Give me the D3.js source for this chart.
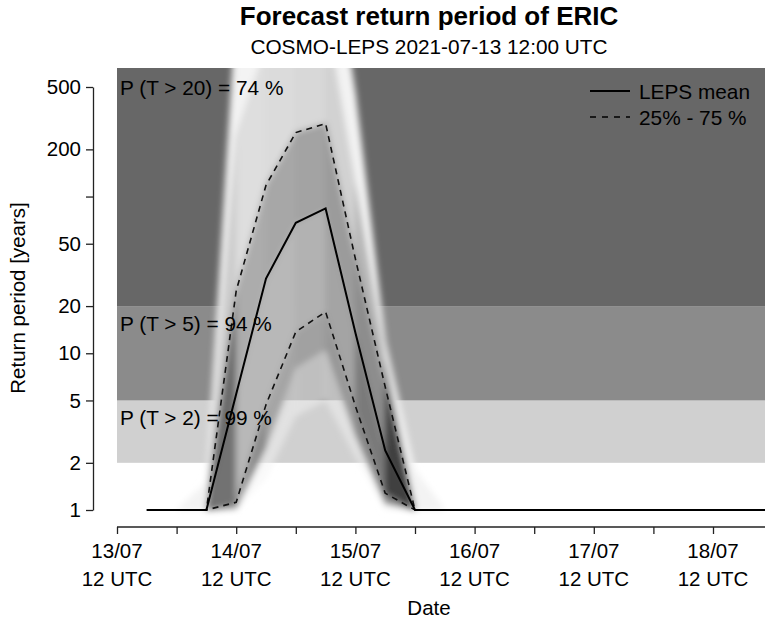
<!DOCTYPE html>
<html>
<head>
<meta charset="utf-8">
<script src="https://cdn.jsdelivr.net/npm/d3@7"></script>
<style>
  body { margin: 0; background: #fff; }
  svg { display: block; }
  text { font-family: "Liberation Sans", Arial, Helvetica, sans-serif; fill: #000; }
</style>
</head>
<body>
<div id="chart"></div>
<script>
// forecast steps, every 6 h
const times = [
  "2021-07-13T18:00Z", "2021-07-14T00:00Z", "2021-07-14T06:00Z", "2021-07-14T12:00Z",
  "2021-07-14T18:00Z", "2021-07-15T00:00Z", "2021-07-15T06:00Z", "2021-07-15T12:00Z",
  "2021-07-15T18:00Z", "2021-07-16T00:00Z", "2021-07-16T06:00Z", "2021-07-16T12:00Z",
  "2021-07-16T18:00Z", "2021-07-17T00:00Z", "2021-07-17T06:00Z", "2021-07-17T12:00Z",
  "2021-07-17T18:00Z", "2021-07-18T00:00Z", "2021-07-18T06:00Z", "2021-07-18T12:00Z",
  "2021-07-18T18:00Z", "2021-07-19T00:00Z"
];
const lepsMean = [1, 1, 1, 5.5, 30, 68, 84, 13.5, 2.4, 1, 1, 1, 1, 1, 1, 1, 1, 1, 1, 1, 1, 1];
const q25 = [1, 1, 1, 1.12, 4.7, 13.7, 18.4, 4.6, 1.28, 1, 1, 1, 1, 1, 1, 1, 1, 1, 1, 1, 1, 1];
const q75 = [1, 1, 1, 25, 118, 256, 292, 40, 6.1, 1, 1, 1, 1, 1, 1, 1, 1, 1, 1, 1, 1, 1];
// ensemble spread used for the grey shading
const qMin = [1, 1, 1, 1, 1.6, 4, 5, 2.2, 1, 1, 1, 1, 1, 1, 1, 1, 1, 1, 1, 1, 1, 1];
const q10 = [1, 1, 1, 1.03, 2.5, 8, 10.5, 3, 1.1, 1, 1, 1, 1, 1, 1, 1, 1, 1, 1, 1, 1, 1];
const q90 = [1, 1, 1, 250, 900, 1500, 1500, 120, 9, 1, 1, 1, 1, 1, 1, 1, 1, 1, 1, 1, 1, 1];
const qMax = [1, 1, 1.5, 1500, 5000, 8000, 8000, 450, 12, 1.8, 1, 1, 1, 1, 1, 1, 1, 1, 1, 1, 1, 1];

// return period classes and probabilities
const classLow = [2, 5, 20];
const classHigh = [5, 20, null];
const classProb = ["P (T > 2) = 99 %", "P (T > 5) = 94 %", "P (T > 20) = 74 %"];

const yTicks = [1, 2, 5, 10, 20, 50, 100, 200, 500];
const yTickLabels = ["1", "2", "5", "10", "20", "50", "", "200", "500"];
const dayTicks = ["2021-07-13T12:00Z", "2021-07-14T12:00Z", "2021-07-15T12:00Z",
                  "2021-07-16T12:00Z", "2021-07-17T12:00Z", "2021-07-18T12:00Z"];
const dayLabels = ["13/07", "14/07", "15/07", "16/07", "17/07", "18/07"];
const nightTicks = ["2021-07-14T00:00Z", "2021-07-15T00:00Z", "2021-07-16T00:00Z",
                    "2021-07-17T00:00Z", "2021-07-18T00:00Z"];

const width = 765, height = 623;
const plot = { left: 117, right: 765, top: 68, bottom: 527 };

const svg = d3.select("#chart").append("svg")
  .attr("width", width).attr("height", height);

const x = d3.scaleUtc()
  .domain([new Date(dayTicks[0]), new Date(dayTicks[dayTicks.length - 1])])
  .range([117, 713]);
const y = d3.scaleLog().domain([1, 500]).range([510, 87]);

const data = times.map((t, i) => ({
  t: new Date(t), mean: lepsMean[i], q25: q25[i], q75: q75[i],
  min: qMin[i], q10: q10[i], q90: q90[i], max: qMax[i]
}));

// background classes
const classFill = ["#d0d0d0", "#8b8b8b", "#676767"];
svg.append("g").selectAll("rect")
  .data(classLow)
  .join("rect")
  .attr("x", plot.left)
  .attr("width", plot.right - plot.left)
  .attr("y", (d, i) => classHigh[i] ? y(classHigh[i]) : plot.top)
  .attr("height", (d, i) => y(d) - (classHigh[i] ? y(classHigh[i]) : plot.top))
  .attr("fill", (d, i) => classFill[i]);

// clip + blur for the ensemble shading
const defs = svg.append("defs");
defs.append("clipPath").attr("id", "clip")
  .append("rect")
  .attr("x", plot.left).attr("y", plot.top)
  .attr("width", plot.right - plot.left).attr("height", plot.bottom - plot.top);
defs.append("filter").attr("id", "soft")
  .attr("x", "-20%").attr("y", "-20%").attr("width", "140%").attr("height", "140%")
  .append("feGaussianBlur").attr("stdDeviation", 3);

const outerCol = () => "#f3f3f3";
const midCol = d3.scaleLinear().domain([0.1, 0.8]).range(["#e6e6e6", "#8a8a8a"]).clamp(true);
const innerCol = d3.scaleLinear().domain([0.2, 1.0]).range(["#d0d0d0", "#404040"]).clamp(true);
const spreadBands = [
  { lo: "min", hi: "q10", mass: 0.10, col: outerCol, op: 0.5 },
  { lo: "q90", hi: "max", mass: 0.10, col: outerCol, op: 1 },
  { lo: "q10", hi: "q25", mass: 0.15, col: midCol, op: 1 },
  { lo: "q75", hi: "q90", mass: 0.15, col: midCol, op: 1 },
  { lo: "q25", hi: "mean", mass: 0.25, col: innerCol, op: 1 },
  { lo: "mean", hi: "q75", mass: 0.25, col: innerCol, op: 1 }
];

const quads = [];
spreadBands.forEach(b => {
  for (let i = 0; i < data.length - 1; i++) {
    const a = data[i], c = data[i + 1];
    const w = (Math.log10(a[b.hi] / a[b.lo]) + Math.log10(c[b.hi] / c[b.lo])) / 2;
    if (w < 1e-6) continue;
    quads.push({
      pts: [[x(a.t), y(a[b.lo])], [x(a.t), y(a[b.hi])], [x(c.t), y(c[b.hi])], [x(c.t), y(c[b.lo])]],
      fill: b.col(b.mass / w),
      op: b.op
    });
  }
});

const clipped = svg.append("g").attr("clip-path", "url(#clip)");
clipped.append("g").attr("filter", "url(#soft)")
  .selectAll("path")
  .data(quads)
  .join("path")
  .attr("d", d => "M" + d.pts.join("L") + "Z")
  .attr("fill", d => d.fill)
  .attr("opacity", d => d.op)
  .attr("stroke", d => d.fill)
  .attr("stroke-width", 0.8);

// quartile and mean lines
const lineOf = key => d3.line().x(d => x(d.t)).y(d => y(d[key]));
["q25", "q75"].forEach(k => {
  clipped.append("path").datum(data)
    .attr("d", lineOf(k))
    .attr("fill", "none").attr("stroke", "#111")
    .attr("stroke-width", 1.6).attr("stroke-dasharray", "6,5");
});
clipped.append("path").datum(data)
  .attr("d", lineOf("mean"))
  .attr("fill", "none").attr("stroke", "#000").attr("stroke-width", 2);

// class probabilities
svg.append("g").selectAll("text")
  .data(classProb)
  .join("text")
  .attr("x", 120)
  .attr("y", (d, i) => classHigh[i] ? y(classHigh[i]) + 25 : plot.top + 27)
  .attr("font-size", 20.8)
  .text(d => d);

// y axis
const yAxis = svg.append("g")
  .attr("transform", "translate(93,0)")
  .call(d3.axisLeft(y).tickValues(yTicks).tickFormat((d, i) => yTickLabels[i])
    .tickSize(7).tickSizeOuter(0).tickPadding(5));
yAxis.selectAll("text").attr("font-size", 20.5).attr("font-family", null);
yAxis.selectAll("line, path").attr("stroke", "#222").attr("stroke-width", 1.3);

// x axis
const allXTicks = dayTicks.concat(nightTicks).map(d => new Date(d));
const xAxis = svg.append("g")
  .attr("transform", `translate(0,${plot.bottom})`)
  .call(d3.axisBottom(x).tickValues(allXTicks).tickFormat("").tickSize(7).tickSizeOuter(0));
xAxis.select(".domain").remove();
xAxis.append("line")
  .attr("x1", plot.left).attr("x2", plot.right)
  .attr("stroke", "#222").attr("stroke-width", 1.3);
xAxis.selectAll("line").attr("stroke", "#222").attr("stroke-width", 1.3);
const dayLab = xAxis.append("g").selectAll("text")
  .data(dayTicks)
  .join("text")
  .attr("text-anchor", "middle")
  .attr("font-size", 20.5)
  .attr("transform", d => `translate(${x(new Date(d))},0)`);
dayLab.append("tspan").attr("x", 0).attr("y", 31).text((d, i) => dayLabels[i]);
dayLab.append("tspan").attr("x", 0).attr("y", 59).text("12 UTC");

// titles
svg.append("text").attr("x", 429).attr("y", 25)
  .attr("text-anchor", "middle").attr("font-size", 26).attr("font-weight", "bold")
  .text("Forecast return period of ERIC");
svg.append("text").attr("x", 429).attr("y", 54)
  .attr("text-anchor", "middle").attr("font-size", 20.8)
  .text("COSMO-LEPS 2021-07-13 12:00 UTC");
svg.append("text").attr("x", 429).attr("y", 615)
  .attr("text-anchor", "middle").attr("font-size", 20.5)
  .text("Date");
svg.append("text")
  .attr("transform", "translate(25,298) rotate(-90)")
  .attr("text-anchor", "middle").attr("font-size", 20.5)
  .text("Return period [years]");

// legend
const legend = svg.append("g").attr("transform", "translate(590,91)");
const legendItems = ["LEPS mean", "25% - 75 %"];
const legendDash = [null, "6,6"];
legendItems.forEach((name, i) => {
  legend.append("line")
    .attr("x1", 0).attr("x2", 40).attr("y1", i * 26).attr("y2", i * 26)
    .attr("stroke", "#000").attr("stroke-width", i ? 1.5 : 1.8)
    .attr("stroke-dasharray", legendDash[i]);
  legend.append("text")
    .attr("x", 49).attr("y", i * 26 + 7.5)
    .attr("font-size", 20.8)
    .text(name);
});
</script>
</body>
</html>
